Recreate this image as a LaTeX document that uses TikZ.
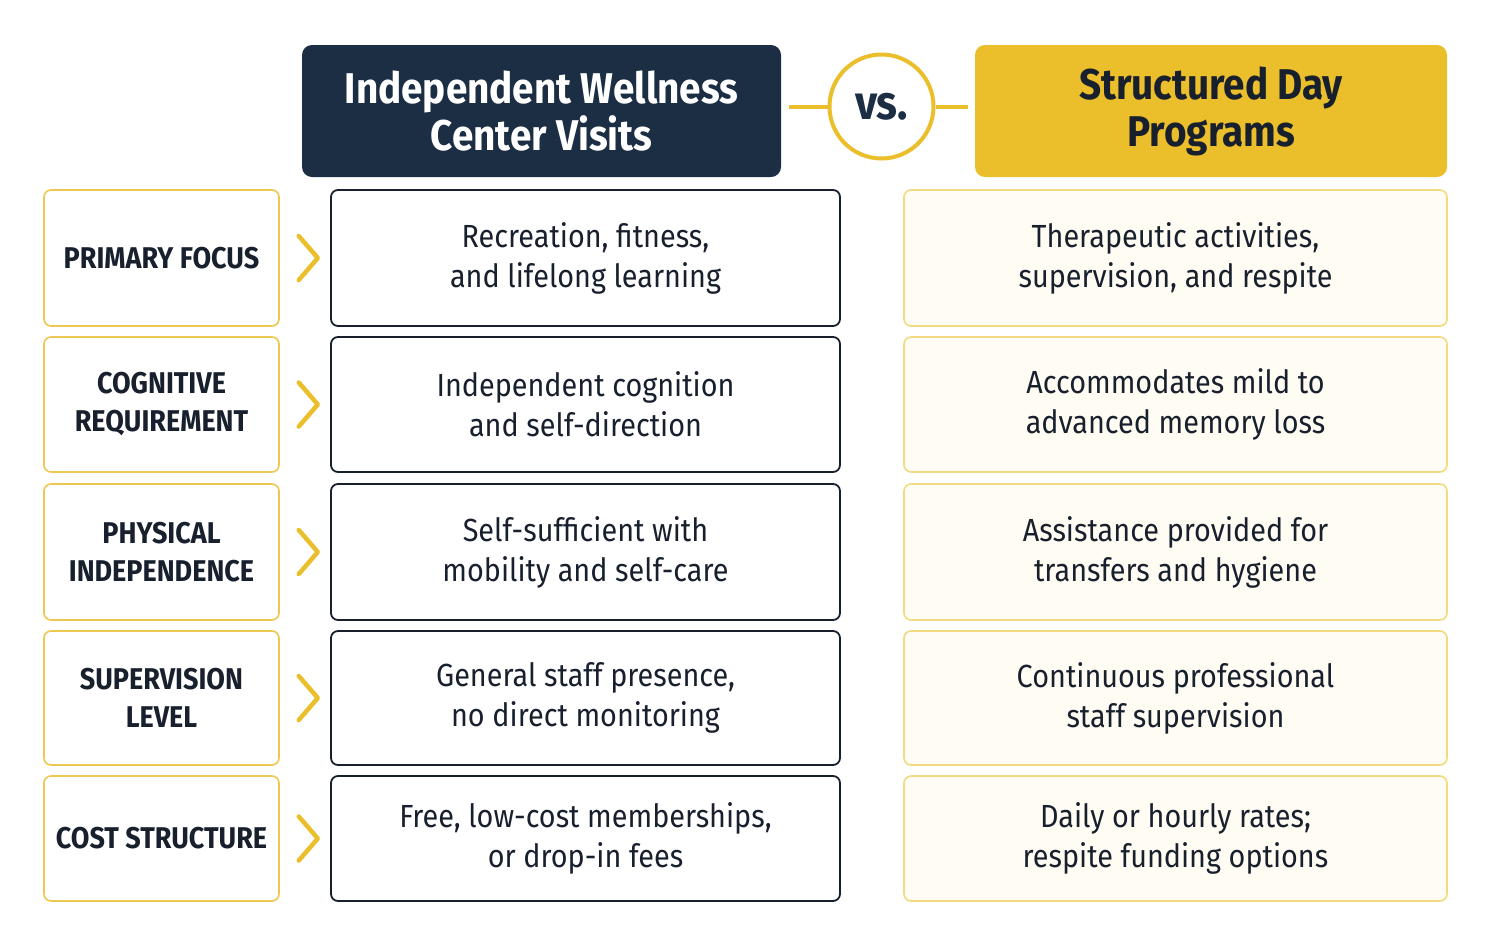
\documentclass[tikz,border=0pt]{standalone}
\usepackage{fontspec}
\setmainfont{Fira Sans}[FakeStretch=0.9]
\usetikzlibrary{positioning, calc}
\definecolor{navyColor}{RGB}{28, 46, 68}
\definecolor{inkColor}{RGB}{24, 32, 46}
\definecolor{goldColor}{RGB}{235, 190, 43}
\definecolor{goldLine}{RGB}{236, 200, 80}
\definecolor{creamFill}{RGB}{255, 252, 243}
\definecolor{creamLine}{RGB}{242, 218, 130}
\tikzset{
    head_box/.style={
        rounded corners=10pt,
        inner sep=0pt,
        align=center,
        font=\fontsize{43}{47}\selectfont\bfseries,
        minimum height=132pt
    },
    label_box/.style={
        draw=goldLine,
        line width=1.6pt,
        fill=white,
        rounded corners=7pt,
        inner sep=0pt,
        align=center,
        text=inkColor,
        font=\fontsize{30}{38}\selectfont\bfseries,
        minimum width=235pt
    },
    ind_box/.style={
        draw=inkColor,
        line width=1.8pt,
        fill=white,
        rounded corners=7pt,
        inner sep=0pt,
        align=center,
        text=inkColor,
        font=\fontsize{32}{40}\selectfont,
        minimum width=509pt
    },
    day_box/.style={
        draw=creamLine,
        line width=1.6pt,
        fill=creamFill,
        rounded corners=7pt,
        inner sep=0pt,
        align=center,
        text=inkColor,
        font=\fontsize{32}{40}\selectfont,
        minimum width=543pt
    },
    chevron/.style={
        draw=goldColor,
        line width=4.5pt,
        line cap=round,
        line join=round
    },
    vs_line/.style={
        draw=goldColor,
        line width=4pt
    }
}
\begin{document}
\begin{tikzpicture}[x=1pt, y=-1pt]
    \useasboundingbox (0,0) rectangle (1492,946);

    % column heads
    \node[head_box, fill=navyColor, text=white, minimum width=479pt] (ind_head) at (541.5,111)
        {Independent Wellness\\Center Visits};
    \node[head_box, fill=goldColor, text=inkColor, minimum width=472pt] (day_head) at (1211,111)
        {Structured Day\\Programs};
    \node[circle, draw=goldColor, line width=4pt, fill=white, minimum size=104pt,
        inner sep=0pt, text=navyColor, font=\fontsize{48}{48}\selectfont\bfseries]
        (vs) at (881.5,106.5) {vs.};

    \draw[vs_line, shorten <=8pt] (ind_head.east |- vs) -- (vs);
    \draw[vs_line, shorten >=7pt] (vs) -- (day_head.west |- vs);

    % rows
    \foreach \y/\h/\name/\lbl/\ind/\day in {
        258/136/focus/{PRIMARY FOCUS}/{Recreation, fitness,\\and lifelong learning}/{Therapeutic activities,\\supervision, and respite},
        404.5/135/cognitive/{COGNITIVE\\REQUIREMENT}/{Independent cognition\\and self-direction}/{Accommodates mild to\\advanced memory loss},
        552/136/physical/{PHYSICAL\\INDEPENDENCE}/{Self-sufficient with\\mobility and self-care}/{Assistance provided for\\transfers and hygiene},
        698/134/supervision/{SUPERVISION\\LEVEL}/{General staff presence,\\no direct monitoring}/{Continuous professional\\staff supervision},
        838.5/125/cost/{COST STRUCTURE}/{Free, low-cost memberships,\\or drop-in fees}/{Daily or hourly rates;\\respite funding options}}
    {
        \node[label_box, minimum height=\h pt] (lbl_\name) at (161.5,\y) {\lbl};
        \node[ind_box, minimum height=\h pt] (ind_\name) at (585.5,\y) {\ind};
        \node[day_box, minimum height=\h pt] (day_\name) at (1175.5,\y) {\day};
        \draw[chevron] ($(lbl_\name.east)+(19,-22)$) -- ++(19,22) -- ++(-19,22);
    }
\end{tikzpicture}
\end{document}
